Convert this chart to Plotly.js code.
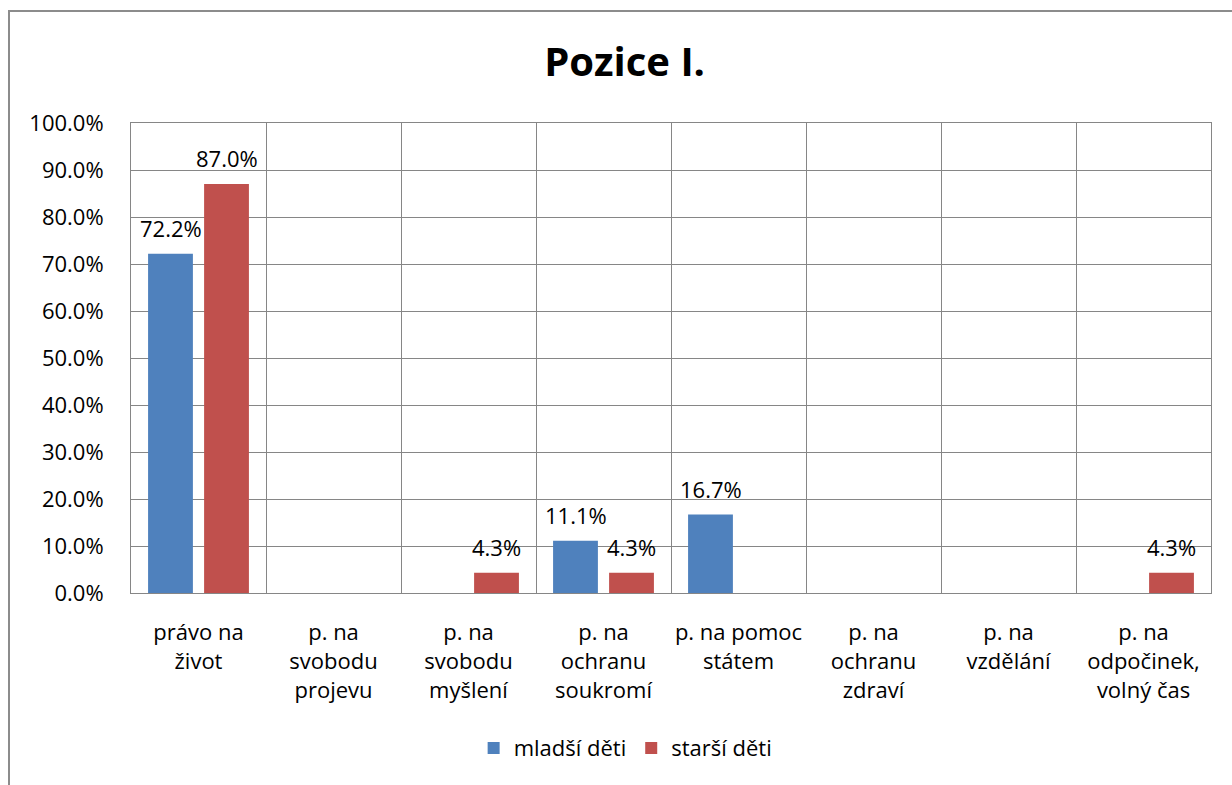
<!DOCTYPE html>
<html>
<head>
<meta charset="utf-8">
<script src="https://cdn.plot.ly/plotly-3.0.1.min.js"></script>
<style>
html,body{margin:0;padding:0;background:#fff;}
#wrap{position:relative;width:1232px;height:785px;overflow:hidden;}
#chart{position:absolute;left:0;top:0;width:1232px;height:785px;}
#frame{position:absolute;left:8px;top:10px;width:1240px;height:800px;border-left:2px solid #8c8c8c;border-top:2px solid #8c8c8c;pointer-events:none;}
</style>
</head>
<body>
<div id="wrap"><div id="chart"></div><div id="frame"></div></div>
<script>
const categories = [
  "právo na<br>život",
  "p. na<br>svobodu<br>projevu",
  "p. na<br>svobodu<br>myšlení",
  "p. na<br>ochranu<br>soukromí",
  "p. na pomoc<br>státem",
  "p. na<br>ochranu<br>zdraví",
  "p. na<br>vzdělání",
  "p. na<br>odpočinek,<br>volný čas"
];
const seriesNames = ["mladší děti", "starší děti"];
const mladsiDeti = [72.2, null, null, 11.1, 16.7, null, null, null];
const starsiDeti = [87.0, null, 4.3, 4.3, null, null, null, 4.3];
const colors = ["#4F81BD", "#C0504D"];

const FONT = "Open Sans, Noto Sans, sans-serif";

function barTrace(name, vals, color) {
  return {
    type: "bar",
    name: name,
    x: categories,
    y: vals,
    marker: {color: color},
    hoverinfo: "x+y"
  };
}

const data = [
  barTrace(seriesNames[0], mladsiDeti, colors[0]),
  barTrace(seriesNames[1], starsiDeti, colors[1])
];

// data labels placed above each bar (centered on its bar within the group)
const annotations = [];
[[mladsiDeti, -28], [starsiDeti, 28]].forEach(([vals, shift]) => {
  vals.forEach((v, i) => {
    if (v == null) return;
    annotations.push({
      x: categories[i], y: v, xref: "x", yref: "y",
      text: v.toFixed(1) + "%",
      showarrow: false,
      xanchor: "center", yanchor: "bottom",
      xshift: shift, yshift: 9,
      font: {family: FONT, size: 22, color: "#000"}
    });
  });
});

const layout = {
  width: 1232,
  height: 785,
  paper_bgcolor: "#fff",
  plot_bgcolor: "#fff",
  font: {family: FONT, size: 22, color: "#000"},
  margin: {l: 131, r: 21, t: 123, b: 192, pad: 0},
  title: {
    text: "<b>Pozice I.</b>",
    font: {family: FONT, size: 40, color: "#000"},
    x: 0.507, xref: "container", xanchor: "center",
    y: 0.921, yref: "container", yanchor: "middle"
  },
  barmode: "group",
  bargap: 0.17,
  bargroupgap: 0.2,
  showlegend: true,
  legend: {
    orientation: "h",
    x: 0.458, xanchor: "center",
    y: -0.33, yanchor: "middle",
    font: {family: FONT, size: 22, color: "#000"},
    itemwidth: 30,
    traceorder: "normal"
  },
  annotations: annotations,
  xaxis: {
    type: "category",
    tickson: "boundaries",
    showgrid: true,
    gridcolor: "#868686",
    gridwidth: 1,
    showline: true,
    linecolor: "#868686",
    linewidth: 1,
    mirror: true,
    ticks: "",
    tickangle: 0,
    ticklabelstandoff: 20,
    tickfont: {family: FONT, size: 22, color: "#000"},
    zeroline: false,
    fixedrange: true
  },
  yaxis: {
    range: [0, 100],
    dtick: 10,
    tick0: 0,
    tickformat: ".1f",
    ticksuffix: "%",
    showgrid: true,
    gridcolor: "#868686",
    gridwidth: 1,
    showline: true,
    linecolor: "#868686",
    linewidth: 1,
    mirror: true,
    ticks: "",
    ticklabelstandoff: 22,
    tickfont: {family: FONT, size: 22, color: "#000"},
    zeroline: false,
    fixedrange: true
  }
};

Plotly.newPlot("chart", data, layout, {displayModeBar: false});
</script>
</body>
</html>
